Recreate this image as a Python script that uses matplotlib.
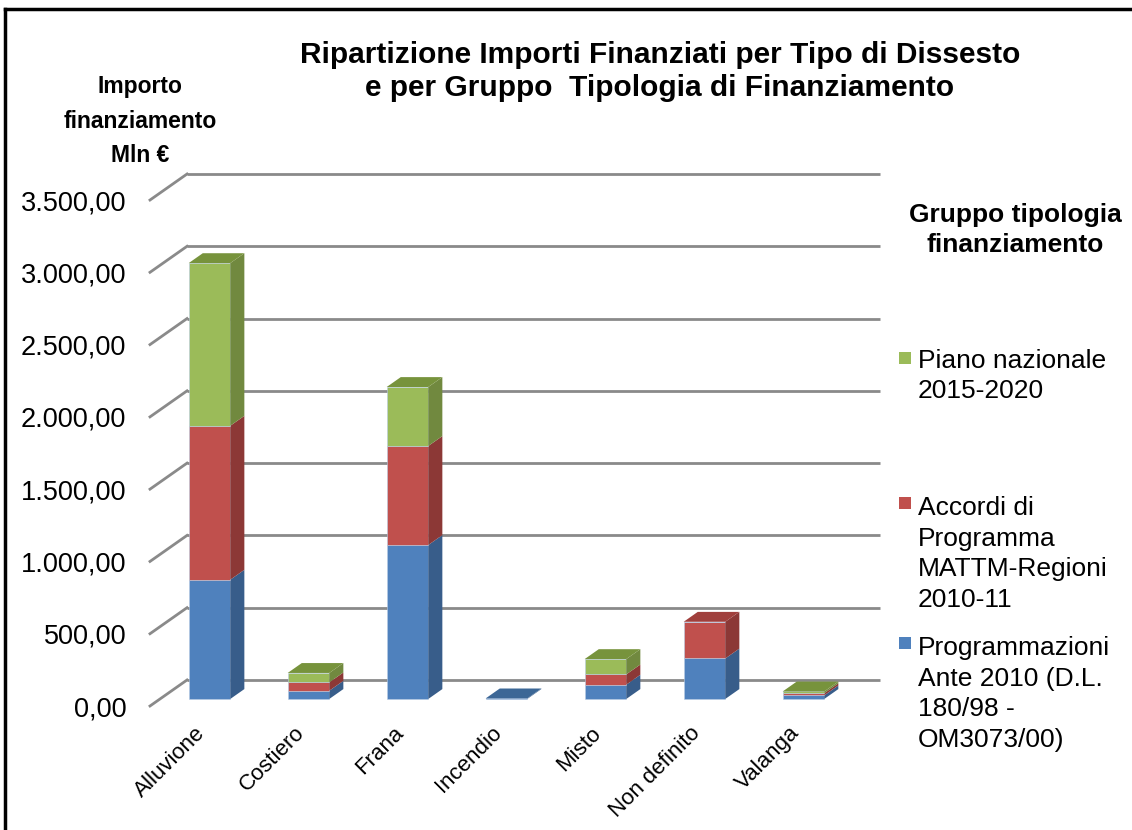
import matplotlib.pyplot as plt
from matplotlib.patches import Polygon, Rectangle
from matplotlib.lines import Line2D
import numpy as np

plt.rcParams["font.family"] = ["Liberation Sans", "DejaVu Sans"]

categories = ["Alluvione", "Costiero", "Frana", "Incendio", "Misto", "Non definito", "Valanga"]
ante_2010 = [825, 57, 1065, 4, 99, 280, 25]
accordi = [1065, 58, 685, 0, 71, 254, 15]
piano = [1125, 65, 408, 0, 106, 0, 12]
series = [ante_2010, accordi, piano]
series_labels = [
    "Programmazioni\nAnte 2010 (D.L.\n180/98 -\nOM3073/00)",
    "Accordi di\nProgramma\nMATTM-Regioni\n2010-11",
    "Piano nazionale\n2015-2020",
]
front_colors = ["#4f81bd", "#c0504d", "#9bbb59"]
side_colors = ["#385d8a", "#8c3836", "#71893f"]
top_colors = ["#3c6796", "#a03f3c", "#77933c"]
yticks = [0, 500, 1000, 1500, 2000, 2500, 3000, 3500]

# fake 3D: depth offset of the back wall in data units
DX = 0.374
DY = 180
bar_front = 0.27
bar_depth = 0.38
width = 0.42

W, H = 1132, 830
fig = plt.figure(figsize=(W / 100, H / 100), dpi=100)
ax = fig.add_axes([150 / W, 1 - 706 / H, 730 / W, 532 / H])
ax.set_xlim(-0.5, 6.5 + DX)
ax.set_ylim(0, 3500 + DY)
for s in ax.spines.values():
    s.set_visible(False)

# back wall gridlines + side wall diagonals
for v in yticks:
    ax.plot([-0.5 + DX, 6.5 + DX], [v + DY, v + DY], color="#8a8a8a", lw=2, zorder=1,
            clip_on=False, solid_capstyle="butt")
    ax.plot([-0.5, -0.5 + DX], [v, v + DY], color="#8a8a8a", lw=2, zorder=1, clip_on=False)

x = np.arange(len(categories)) + bar_front * DX
y0 = bar_front * DY
bottom = np.zeros(len(categories))
for k, vals in enumerate(series):
    vals = np.array(vals, dtype=float)
    ax.bar(x, vals, width=width, bottom=bottom + y0, color=front_colors[k],
           edgecolor="#b9cde5", linewidth=0.4, zorder=3)
    for i in range(len(categories)):
        if vals[i] <= 0:
            continue
        xr = x[i] + width / 2
        b = bottom[i] + y0
        t = b + vals[i]
        side = Polygon([(xr, b), (xr + bar_depth * DX, b + bar_depth * DY),
                        (xr + bar_depth * DX, t + bar_depth * DY), (xr, t)],
                       closed=True, facecolor=side_colors[k], edgecolor="none", zorder=3)
        ax.add_patch(side)
    bottom = bottom + vals

# top faces: colour of the highest non-zero segment
for i in range(len(categories)):
    k_top = max(k for k in range(3) if series[k][i] > 0)
    xl = x[i] - width / 2
    xr = x[i] + width / 2
    t = bottom[i] + y0
    top = Polygon([(xl, t), (xr, t), (xr + bar_depth * DX, t + bar_depth * DY),
                   (xl + bar_depth * DX, t + bar_depth * DY)],
                  closed=True, facecolor=top_colors[k_top], edgecolor="none", zorder=4)
    ax.add_patch(top)

ax.set_yticks(yticks)
ax.set_yticklabels([f"{v:,.2f}".replace(",", "X").replace(".", ",").replace("X", ".") for v in yticks],
                   fontsize=19.5)
ax.set_xticks(x - 0.15)
ax.set_xticklabels(categories, rotation=45, ha="right", rotation_mode="anchor", fontsize=16)
ax.tick_params(axis="both", length=0)
ax.tick_params(axis="y", pad=17)
ax.tick_params(axis="x", pad=12)

fig.text(660 / W, 1 - 71.5 / H,
         "Ripartizione Importi Finanziati per Tipo di Dissesto\ne per Gruppo  Tipologia di Finanziamento",
         ha="center", va="center", fontsize=21.5, fontweight="bold", linespacing=1.23)
fig.text(140 / W, 1 - 121 / H, "Importo\nfinanziamento\nMln €", ha="center", va="center",
         fontsize=16.5, fontweight="bold", linespacing=1.65)
fig.text(1015 / W, 1 - 230 / H, "Gruppo tipologia\nfinanziamento", ha="center", va="center",
         fontsize=19, fontweight="bold", linespacing=1.34)

# legend, placed like the original
for k, ymid, ysq in zip([2, 1, 0], [376, 554, 694], [358, 503, 643]):
    fig.patches.append(Rectangle((899 / W, 1 - (ysq + 6) / H), 12 / W, 12 / H,
                                 transform=fig.transFigure, facecolor=front_colors[k],
                                 edgecolor="none"))
    fig.text(918 / W, 1 - ymid / H, series_labels[k], ha="left", va="center", fontsize=19,
             linespacing=1.36)

# outer frame (left and top edges)
fig.add_artist(Line2D([5 / W, 5 / W], [0, 1 - 9 / H], color="black", lw=2.5,
                      transform=fig.transFigure))
fig.add_artist(Line2D([5 / W, 1], [1 - 9 / H, 1 - 9 / H], color="black", lw=2.5,
                      transform=fig.transFigure))

fig.savefig("out.png", dpi=100)
